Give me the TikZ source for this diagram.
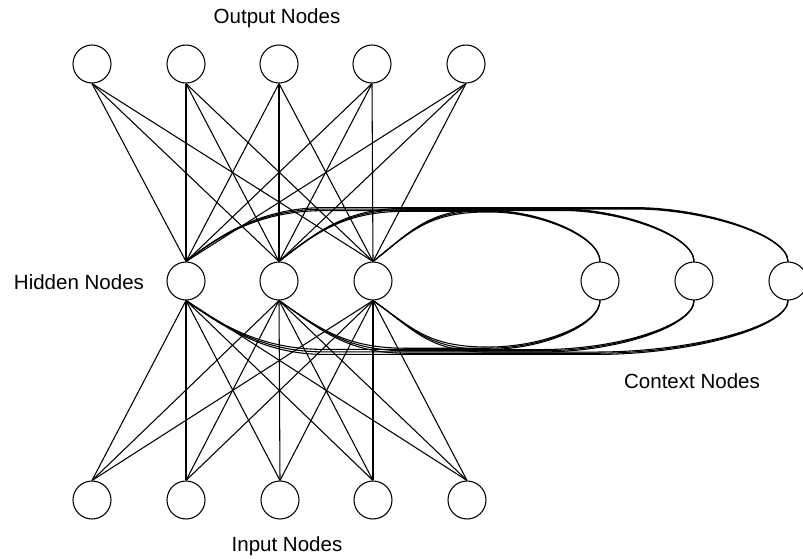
\documentclass[tikz,border=0pt]{standalone}
\usepackage{fontspec}
\setmainfont{Liberation Sans}
\usetikzlibrary{calc}

\begin{document}
\begin{tikzpicture}[x=0.75pt, y=-0.75pt, line width=0.8pt,
        neuron/.style={draw, circle, minimum size=28.5pt, inner sep=0pt},
        layername/.style={font=\fontsize{15.4}{18}\selectfont}]
    \useasboundingbox (0,0) rectangle (803,558);

    % output layer
    \node[neuron] (o1) at (92, 64) {};
    \node[neuron] (o2) at (186, 64) {};
    \node[neuron] (o3) at (279, 64) {};
    \node[neuron] (o4) at (372, 64) {};
    \node[neuron] (o5) at (466, 64) {};
    \node[layername] (outname) at (277, 18) {Output Nodes};

    % hidden layer
    \node[neuron] (h1) at (186, 281) {};
    \node[neuron] (h2) at (279, 281) {};
    \node[neuron] (h3) at (373, 281) {};
    \node[layername] (hidname) at (79, 282) {Hidden Nodes};

    % context layer, the last one runs off the edge
    \node[neuron] (c1) at (600, 281) {};
    \node[neuron] (c2) at (694, 281) {};
    \node[neuron] (c3) at (788, 281) {};
    \node[layername] (ctxname) at (692, 381) {Context Nodes};

    % input layer
    \node[neuron] (i1) at (92, 500) {};
    \node[neuron] (i2) at (186, 500) {};
    \node[neuron] (i3) at (280, 500) {};
    \node[neuron] (i4) at (373, 500) {};
    \node[neuron] (i5) at (467, 500) {};
    \node[layername] (inname) at (287, 546) {Input Nodes};

    % every hidden node is wired to every output and input node
    \foreach \hid in {1,2,3} {
        \foreach \k in {1,...,5} {
            \draw (o\k.south) -- (h\hid.north);
            \draw (h\hid.south) -- (i\k.north);
        }
    }

    % loops to the context nodes, over the top and under the bottom
    \foreach \hid in {1,2,3} {
        \foreach \ctx in {1,2,3} {
            \pgfmathsetmacro\rise{48+1.5*\ctx+0.7*(3-\hid)}
            \pgfmathsetmacro\dip{44+2.5*\ctx+1.2*(3-\hid)}
            \pgfmathsetmacro\reach{115+12*(3-\hid)}
            \pgfmathsetmacro\topfall{88+22*\ctx}
            \pgfmathsetmacro\lowfall{72+40*\ctx}
            \draw (h\hid.north) .. controls +(38,-30) and +(-60,0) .. ++(\reach,-\rise)
                -- ($(c\ctx.north)+(-\topfall,-\rise)$)
                .. controls +(0.45*\topfall,0) and +(0,-0.5*\rise) .. (c\ctx.north);
            \draw (h\hid.south) .. controls +(40,28) and +(-60,0) .. ++(\reach,\dip)
                -- ($(c\ctx.south)+(-\lowfall,\dip)$)
                .. controls +(0.5*\lowfall,0) and +(0,0.5*\dip) .. (c\ctx.south);
        }
    }
\end{tikzpicture}
\end{document}
